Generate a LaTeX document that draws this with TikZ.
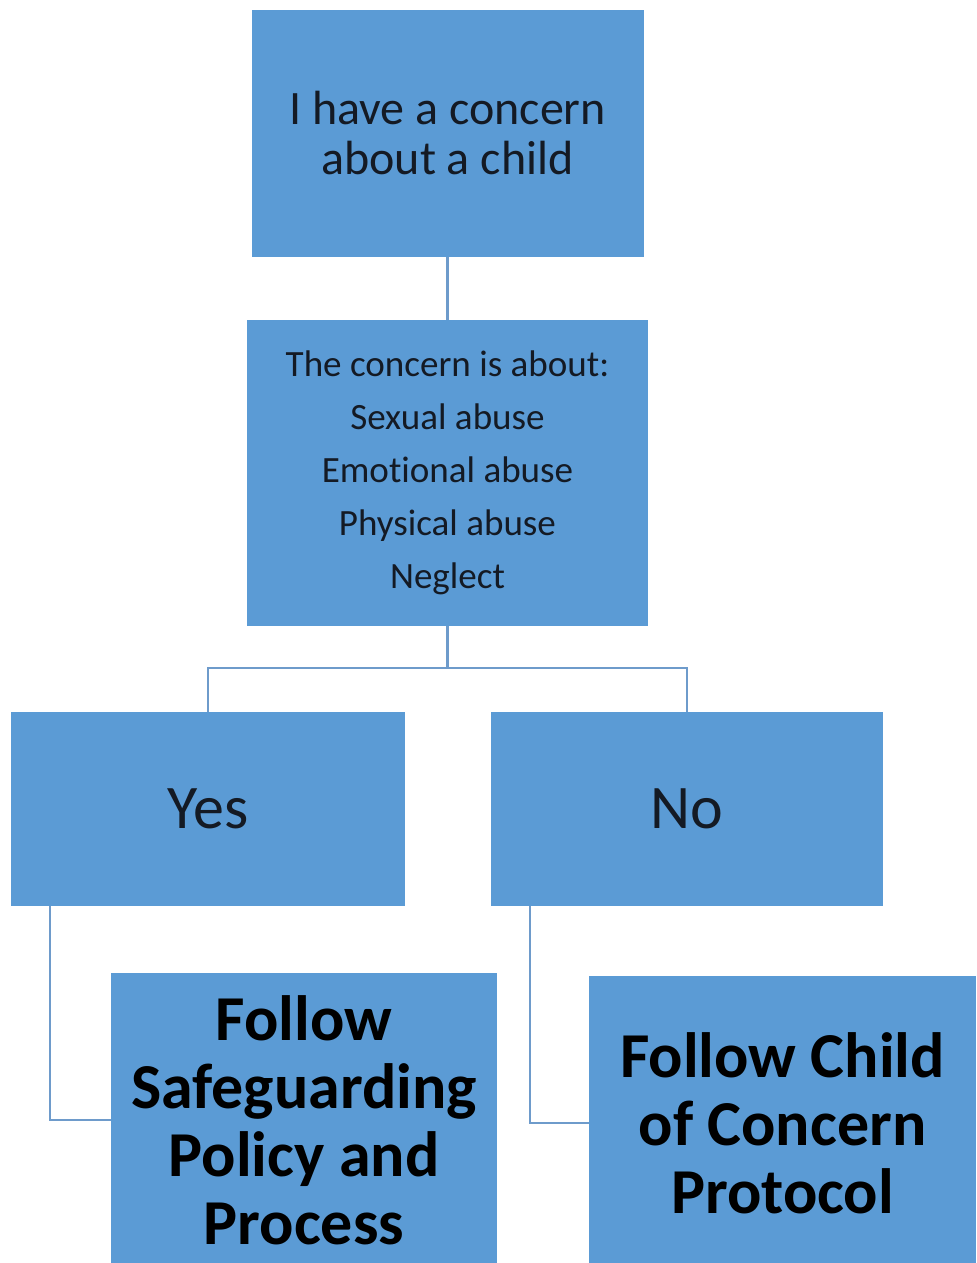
\documentclass[tikz,border=0pt]{standalone}
\usepackage{fontspec}
\setmainfont{Carlito}[Ligatures=NoCommon]
\usetikzlibrary{positioning, calc}
\definecolor{boxblue}{HTML}{5B9BD5}
\definecolor{linkblue}{HTML}{6E9BCB}
\definecolor{inktext}{HTML}{141A24}

\begin{document}
\begin{tikzpicture}[
    x=0.75pt, y=-0.75pt,
    box/.style={rectangle, fill=boxblue, inner sep=0pt, align=center, text=inktext},
    link/.style={draw=linkblue, line width=1.7pt},
    headfont/.style={font=\fontsize{36}{37.5}\selectfont},
    listfont/.style={font=\fontsize{27.8}{39.75}\selectfont},
    answerfont/.style={font=\fontsize{46.5}{50}\selectfont},
    actionfont/.style={font=\fontsize{48}{51}\selectfont\bfseries, text=black}
  ]
    \useasboundingbox (0,0) rectangle (976,1263);
    \clip (0,0) rectangle (976,1263);

    % Boxes
    \node[box, headfont, minimum width=294pt, minimum height=185.25pt] (concern) at (447.5,133.5)
        {I have a concern\\about a child};
    \node[box, listfont, minimum width=300.75pt, minimum height=229.5pt] (about) at (447.5,473)
        {The concern is about:\\Sexual abuse\\Emotional abuse\\Physical abuse\\Neglect};
    \node[box, answerfont, minimum width=295.5pt, minimum height=145.5pt] (yes) at (208,809) {Yes};
    \node[box, answerfont, minimum width=294pt, minimum height=145.5pt] (no) at (687,809) {No};
    \node[box, actionfont, minimum width=289.5pt, minimum height=220.5pt] (safeguard) at (304,1120)
        {Follow\\Safeguarding\\Policy and\\Process};
    \node[box, actionfont, minimum width=290.25pt, minimum height=220.5pt] (protocol) at (782.5,1123)
        {Follow Child\\of Concern\\Protocol};

    % Connectors
    \coordinate (split) at (447.5,668);
    \draw[link] (concern.south) -- (about.north);
    \draw[link] (about.south) -- (split);
    \draw[link] (split) -| (yes.north);
    \draw[link] (split) -| (no.north);
    \draw[link] ($(yes.south west)+(39,0)$) |- (safeguard.west);
    \draw[link] ($(no.south west)+(39,0)$) |- (protocol.west);
\end{tikzpicture}
\end{document}
